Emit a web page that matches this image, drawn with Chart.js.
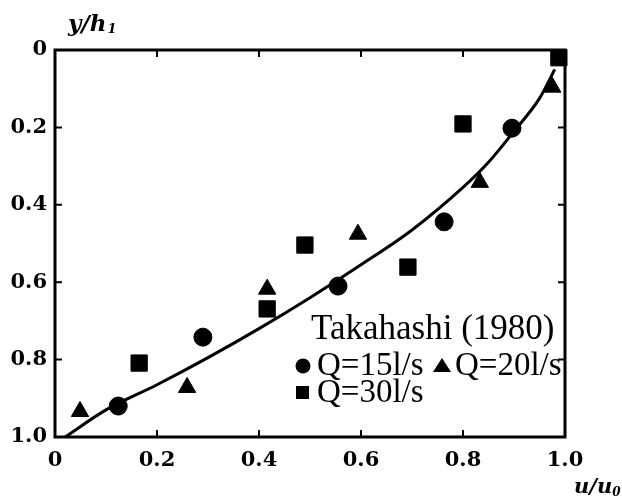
<!DOCTYPE html>
<html>
<head>
<meta charset="utf-8">
<script src="https://cdn.jsdelivr.net/npm/chart.js@4.4.1/dist/chart.umd.min.js"></script>
<style>
  html, body { margin: 0; padding: 0; background: #fff; }
  #wrap { width: 622px; height: 499px; }
</style>
</head>
<body>
<div id="wrap"><canvas id="chart1"></canvas></div>
<script>
// values (u/u0 on x, y/h1 on y, y grows downward)
const curveX = [0.02, 0.1, 0.2, 0.3, 0.4, 0.5, 0.6, 0.7, 0.8, 0.85, 0.9, 0.95, 0.98];
const curveY = [1.0, 0.93, 0.865, 0.795, 0.72, 0.64, 0.555, 0.465, 0.355, 0.29, 0.21, 0.125, 0.05];

const circleX = [0.124, 0.29, 0.555, 0.763, 0.896];
const circleY = [0.92, 0.742, 0.61, 0.444, 0.202];

const triX = [0.049, 0.259, 0.416, 0.594, 0.833, 0.975];
const triY = [0.934, 0.872, 0.618, 0.476, 0.342, 0.096];

const sqX = [0.165, 0.416, 0.49, 0.692, 0.80, 0.988];
const sqY = [0.809, 0.669, 0.504, 0.561, 0.191, 0.02];

const tickValues = [0, 0.2, 0.4, 0.6, 0.8, 1.0];
const tickLabels = ["0", "0.2", "0.4", "0.6", "0.8", "1.0"];

const legendTitle = "Takahashi (1980)";
const seriesNames = ["Q=15l/s", "Q=20l/s", "Q=30l/s"];

function pts(xs, ys) {
  return xs.map((x, i) => ({ x: x, y: ys[i] }));
}

function fmtTick(v) {
  const i = tickValues.findIndex(t => Math.abs(t - v) < 1e-6);
  return i >= 0 ? tickLabels[i] : "";
}

const tickFont = { family: "DejaVu Serif", size: 21, weight: "bold" };

// frame, inward ticks, legend and axis titles
const decor = {
  id: "decor",
  afterDatasetsDraw(chart) {
    const ctx = chart.ctx;
    const a = chart.chartArea;
    const xs = chart.scales.x, ys = chart.scales.y;
    ctx.save();
    ctx.strokeStyle = "#000";
    ctx.lineWidth = 3;
    ctx.strokeRect(a.left, a.top, a.right - a.left, a.bottom - a.top);

    ctx.lineWidth = 2;
    ctx.beginPath();
    tickValues.slice(1, -1).forEach(v => {
      const px = xs.getPixelForValue(v);
      ctx.moveTo(px, a.bottom); ctx.lineTo(px, a.bottom - 7);
      ctx.moveTo(px, a.top); ctx.lineTo(px, a.top + 7);
      const py = ys.getPixelForValue(v);
      ctx.moveTo(a.left, py); ctx.lineTo(a.left + 7, py);
      ctx.moveTo(a.right, py); ctx.lineTo(a.right - 7, py);
    });
    ctx.stroke();

    // legend
    ctx.fillStyle = "#000";
    ctx.textBaseline = "alphabetic";
    ctx.textAlign = "left";
    ctx.font = "35px 'Liberation Serif'";
    ctx.fillText(legendTitle, 311, 339);
    ctx.font = "33px 'Liberation Serif'";
    ctx.fillText(seriesNames[0], 317, 375);
    ctx.fillText(seriesNames[1], 455, 375);
    ctx.fillText(seriesNames[2], 317, 402);

    ctx.beginPath();
    ctx.arc(303, 366, 7.5, 0, Math.PI * 2);
    ctx.fill();
    ctx.beginPath();
    ctx.moveTo(442, 358); ctx.lineTo(451, 372); ctx.lineTo(433, 372);
    ctx.closePath();
    ctx.fill();
    ctx.fillRect(296, 386, 13, 13);

    // axis titles
    ctx.font = "italic bold 23px 'DejaVu Serif'";
    ctx.fillText("y/h", 68, 31);
    let w = ctx.measureText("y/h").width;
    ctx.font = "italic bold 13px 'DejaVu Serif'";
    ctx.fillText("1", 68 + w + 1, 33);

    ctx.font = "italic bold 21px 'DejaVu Serif'";
    ctx.fillText("u/u", 574, 493);
    w = ctx.measureText("u/u").width;
    ctx.font = "italic bold 12px 'DejaVu Serif'";
    ctx.fillText("0", 574 + w, 496);
    ctx.restore();
  }
};

const ctx = document.getElementById("chart1").getContext("2d");
const myChart = new Chart(ctx, {
  type: "scatter",
  data: {
    datasets: [
      {
        type: "line",
        label: "Takahashi",
        data: pts(curveX, curveY),
        borderColor: "#000",
        borderWidth: 3,
        pointRadius: 0,
        fill: false,
        cubicInterpolationMode: "monotone",
        clip: false,
      },
      {
        label: seriesNames[0],
        data: pts(circleX, circleY),
        pointStyle: "circle",
        pointRadius: 9,
        backgroundColor: "#000",
        borderColor: "#000",
        clip: false,
      },
      {
        label: seriesNames[1],
        data: pts(triX, triY),
        pointStyle: "triangle",
        pointRadius: 10,
        backgroundColor: "#000",
        borderColor: "#000",
        clip: false,
      },
      {
        label: seriesNames[2],
        data: pts(sqX, sqY),
        pointStyle: "rect",
        pointRadius: 11.5,
        backgroundColor: "#000",
        borderColor: "#000",
        clip: false,
      },
    ],
  },
  options: {
    responsive: true,
    maintainAspectRatio: false,
    animation: false,
    layout: { padding: { left: 0, top: 50, right: 57, bottom: 0 } },
    plugins: {
      legend: { display: false },
      tooltip: { enabled: false },
    },
    scales: {
      x: {
        type: "linear",
        min: 0,
        max: 1,
        afterBuildTicks: s => { s.ticks = tickValues.map(v => ({ value: v })); },
        afterFit: s => { s.height = 62; },
        grid: { display: false, drawTicks: false },
        border: { display: false },
        ticks: { callback: fmtTick, color: "#000", font: tickFont, padding: 11, maxRotation: 0 },
      },
      y: {
        type: "linear",
        min: 0,
        max: 1,
        reverse: true,
        afterBuildTicks: s => { s.ticks = tickValues.map(v => ({ value: v })); },
        afterFit: s => { s.width = 55; },
        grid: { display: false, drawTicks: false },
        border: { display: false },
        ticks: { callback: fmtTick, color: "#000", font: tickFont, padding: 8 },
      },
    },
  },
  plugins: [decor],
});
</script>
</body>
</html>
